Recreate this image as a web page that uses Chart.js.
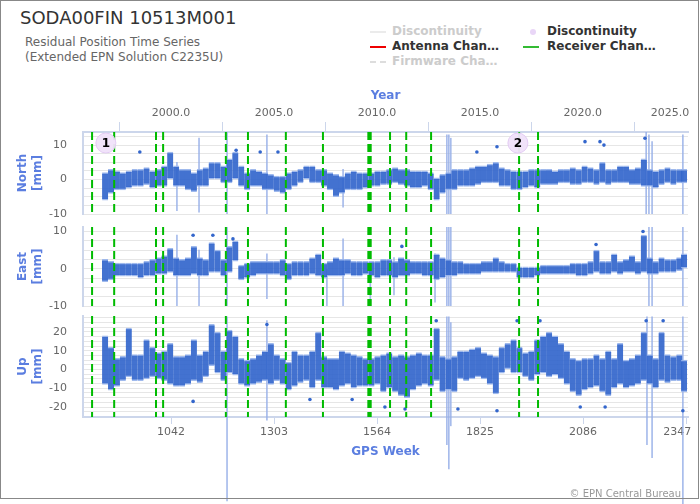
<!DOCTYPE html>
<html>
<head>
<meta charset="utf-8">
<script src="https://cdn.jsdelivr.net/npm/chart.js@4"></script>
<style>
  body { margin: 0; width: 700px; height: 504px; overflow: hidden; background: #fff; font-family: "DejaVu Sans", sans-serif; }
  canvas { position: absolute; left: 0; top: 0; }
  #frame { position: absolute; left: 0; top: 0; width: 697px; height: 497px; border: 1px solid #888; z-index: 5; pointer-events: none; }
  .title { position: absolute; left: 20px; top: 7px; font-size: 18px; color: #333; }
  .sub { position: absolute; left: 25px; top: 35px; font-size: 12px; line-height: 15px; color: #666; }
  .leg { position: absolute; font-size: 12px; font-weight: bold; white-space: nowrap; overflow: hidden; text-overflow: ellipsis; max-width: 110px; line-height: 15px; }
  .mark { position: absolute; height: 0; width: 16px; }
  .copy { position: absolute; right: 19px; top: 488px; font-size: 10px; color: #999; }
</style>
</head>
<body>
<div class="title">SODA00FIN 10513M001</div>
<div class="sub">Residual Position Time Series<br>(Extended EPN Solution C2235U)</div>

<!-- legend -->
<div class="mark" style="left:370px;top:31px;border-top:2px solid #ebebeb"></div>
<div class="leg" style="left:392px;top:24px;color:#ccc">Discontinuity</div>
<div class="mark" style="left:370px;top:46px;border-top:2px solid #e00"></div>
<div class="leg" style="left:392px;top:39px;color:#333">Antenna Change</div>
<div class="mark" style="left:370px;top:61px;border-top:2px dashed #ddd"></div>
<div class="leg" style="left:392px;top:54px;color:#ccc">Firmware Change</div>
<div style="position:absolute;left:530px;top:29px;width:6px;height:6px;border-radius:3px;background:#e9d6f7"></div>
<div class="leg" style="left:547px;top:24px;color:#333">Discontinuity</div>
<div class="mark" style="left:523px;top:46px;border-top:2px solid #3b3"></div>
<div class="leg" style="left:547px;top:39px;color:#333">Receiver Change</div>

<canvas id="north" width="700" height="504"></canvas>
<canvas id="east" width="700" height="504"></canvas>
<canvas id="up" width="700" height="504"></canvas>
<div class="copy">© EPN Central Bureau</div>
<div id="frame"></div>

<script>
// GPS week bins (15 weeks) of the residual band
const weeks = [875,890,905,920,935,950,965,980,995,1010,
  1025,1040,1055,1070,1085,1100,1115,1130,1145,1160,
  1175,1190,1205,1220,1235,1250,1265,1280,1295,1310,
  1325,1340,1355,1370,1385,1400,1415,1430,1445,1460,
  1475,1490,1505,1520,1535,1550,1565,1580,1595,1610,
  1625,1640,1655,1670,1685,1700,1715,1730,1745,1760,
  1775,1790,1805,1820,1835,1850,1865,1880,1895,1910,
  1925,1940,1955,1970,1985,2000,2015,2030,2045,2060,
  2075,2090,2105,2120,2135,2150,2165,2180,2195,2210,
  2225,2240,2255,2270,2285,2300,2315,2330,2342];

const northLo = [-6,-4,-3,-3,-2.5,-2,-2,-1.5,-2.5,-2,
  -2,0,-2,-2,-3,-3.5,-2,-2,0,0,
  -1,-1,0,-2,-3,-2,-2,-3,-3,-3.5,
  -4,-3,-2,-1,0,-1,-1,-2,-3,-5,
  -4,-3,-3,-3,-2.5,-2,-2,-1.5,-1.5,-1,
  -1.5,-2,-2.5,-2.5,-2,-3,-6,-4,-3,-3,
  -2,-2,-2,-1.5,-1,-1,-1,-2,-2,-3,
  -3,-2.5,-2,-2.5,-1.5,-1.5,-1.5,-1,-1,-1.5,
  -1.5,-1,-1,-1.5,-1,-1.5,-1,-1,-1,-1.5,
  -1.5,-2,-2,-2.5,-1.5,-1,-1.5,-1,-1];
const northHi = [2,3,2.5,2,2.5,3,3,3.5,2.5,3,
  4,8,4,3,3,2,3,3.5,5,5,
  4,6,8,4,2,3,2.5,2,1.5,1,
  1,2,2.5,3,4,4,3,3,2,1.5,
  1,2,2.5,2,2,2,2.5,2.5,3,3.5,
  3,3,2.5,2.5,2.5,2,0.5,1.5,2,3,
  3,3,3.5,4,4,4.5,5,3.5,3,2.5,
  2.5,2.5,3,3,3,3,2.5,3,3,3.5,
  3,4,3.5,3,5,3,3,4,4,3,
  3.5,6,3,2.5,3,3.5,3,3,3];

const eastLo = [-3.5,-3,-2,-2,-2,-2,-2.5,-2,-2,-1.5,
  -1.5,-1,-2,-2,-2,-1.5,-2,-2,-1,-1,
  -2,-1,2,-3,-2.5,-2,-1.5,-1.5,-1.5,-1.5,
  -2,-3,-2,-2,-2,-1.5,-2,-2.5,-2,-2,
  -2,-1.5,-2,-2,-1.5,-2,-2.5,-2,-2,-2.5,
  -2,-2,-1.5,-1.5,-2,-2,-3,-2.5,-2,-2,
  -1.5,-1.5,-1.5,-1.5,-1,-1,-1,-1,-1,-1,
  -2.5,-2.5,-2.5,-2,-1.5,-1.5,-1.5,-1.5,-1.5,-1.5,
  -2,-2,-1.5,-1,-1.5,-1.5,-1,-1.5,-1,-1,
  -1.5,-1,-1.5,-1.5,-1,-1,-1,-0.5,0];
const eastHi = [2.5,2,1.5,1.5,1.5,1.5,1.5,2,2.5,3,
  3.5,5.5,3,2.5,3,6,3,2.5,7,5,
  2.5,6,7.5,1,1.5,2,2,2,2,2,
  2.5,1.5,2,2,2,3,4,1.5,2,3,
  2.5,2.5,2,2,2,2,2,2.5,2.5,2,
  3,2.5,2,2,2,2,4,3,2.5,2,
  2,1.5,1.5,1.5,2,2,3,2,1.5,1.5,
  0.5,0.5,0.5,0.5,1,1,1,1,1,1.5,
  1.5,1.5,2,5,2,2,4,2,2.5,3.5,
  2,9,3,2,3,2.5,2.5,3,4];

const upLo = [-8,-11,-9,-6,-4,-6,-6,-5,-4,-5,
  -6,-8,-9,-9,-8,-6,-7,-4,2,-2,
  -6,-2,-3,-8,-9,-8,-7,-6,-8,-6,
  -8,-11,-9,-7,-6,-10,-6,-10,-10,-11,
  -9,-8,-10,-9,-9,-9,-8,-12,-10,-12,
  -14,-15,-11,-9,-8,-9,-6,-12,-11,-12,
  -5,-6,-5,-4,-5,-8,-13,-2,0,-2,
  -2,-4,-6,-3,-2,-4,-3,-5,-8,-12,
  -14,-11,-10,-9,-12,-14,-10,-8,-10,-9,
  -8,-6,-8,-10,-6,-7,-6,-6,-12];
const upHi = [18,12,6,7,22,8,8,16,12,9,
  10,14,7,7,8,16,8,10,24,20,
  10,21,18,6,5,6,8,10,14,8,
  6,4,10,8,8,10,20,7,6,6,
  10,9,8,7,6,6,7,8,9,7,
  8,7,8,9,8,8,22,7,6,7,
  10,10,11,12,9,8,7,12,14,16,
  12,9,10,16,18,20,18,14,10,6,
  5,6,6,8,6,10,6,14,5,6,
  8,20,8,6,20,8,7,8,5];

// isolated outliers
const northOutWeeks = [963, 1207, 1268, 1313, 1817, 1868, 2091, 2129, 2139, 2243];
const northOutVals = [8, 8.5, 8, 8, 8, 9.5, 11, 11, 10, 12];
const eastOutWeeks = [1098, 1148, 1199, 1627, 2119, 2238];
const eastOutVals = [9, 9, 8, 6, 6.5, 10];
const upOutWeeks = [1098, 1285, 1394, 1501, 1584, 1635, 1714, 1769, 1868, 1919, 1977, 2079, 2142, 2246, 2289, 2339];
const upOutVals = [-17, 24, -16, -16, -20, -21, 26, -21, -22, 26, 26, -20, -20, 26, 26, -22];

// long error bars
const northSpikeWeeks = [1057, 1113, 1184, 1285, 1478, 1741, 1746, 1751, 2246, 2253, 2261, 2339];
const northSpikeLo = [-9, -9.5, -14, -12, -8, -14, -14, -13, -14, -14, -12, -14];
const northSpikeHi = [5, 12, 14, 13, 3, 13, 13, 12, 14, 13, 11, 13];
const eastSpikeWeeks = [1057, 1113, 1184, 1285, 1437, 1478, 1547, 1607, 1711, 1741, 1746, 1751, 2253, 2261, 2339];
const eastSpikeLo = [-11, -10, -14, -8, -10, -11, -10.5, -7, -9, -16, -16, -14, -16, -16, -16];
const eastSpikeHi = [9, 5, 14, 4, 0, 8, 0, 3, 4, 14, 14, 12, 14, 14, 14];
const upSpikeWeeks = [1184, 1285, 1741, 1746, 1751, 2248, 2261, 2339];
const upSpikeLo = [-70, -27, -40, -53, -30, -40, -47, -72];
const upSpikeHi = [28, 26, 28, 28, 25, 28, 28, 28];

// receiver changes and discontinuities
const receiverWeeks = [842, 898, 1004, 1022, 1181, 1237, 1333, 1427, 1542, 1545, 1548, 1597, 1638, 1701, 1924, 1972];
const discWeeks = [877, 1921];
const discLabels = ['1', '2'];

const weekTicks = [1042, 1303, 1564, 1825, 2086, 2347];
const yearTicks = [2000, 2005, 2010, 2015, 2020, 2025];
const weekMin = 819, weekMax = 2352;

const toYear = w => 2000 + (w - 1042) / 52.1775;
const titleBlue = '#5b7ee0';
const axisCol = '#ccd6eb';

Chart.defaults.font.family = '"DejaVu Sans", sans-serif';
Chart.defaults.animation = false;
Chart.defaults.events = [];

// last label kept inside the plot, like the original
const lastInside = (txt, i, n, pad) => (i === n - 1 ? txt + ' '.repeat(pad) : txt);

const discLabelPlugin = {
    id: 'discLabels',
    afterDatasetsDraw(chart) {
        const idx = chart.data.datasets.findIndex(d => d.label === 'disc');
        if (idx < 0) return;
        const ctx = chart.ctx;
        ctx.save();
        ctx.font = 'bold 12px "DejaVu Sans", sans-serif';
        ctx.fillStyle = '#000';
        ctx.textAlign = 'center';
        ctx.textBaseline = 'middle';
        chart.getDatasetMeta(idx).data.forEach((pt, i) => ctx.fillText(discLabels[i], pt.x, pt.y + 1));
        ctx.restore();
    }
};

function panel(id, o) {
    const band = weeks.map((w, i) => ({ x: w, y: [o.lo[i], o.hi[i]] }));
    const spikes = o.spikeWeeks.map((w, i) => ({ x: w, y: [o.spikeLo[i], o.spikeHi[i]] }));
    const outs = o.outWeeks.map((w, i) => ({ x: w, y: o.outVals[i] }));
    const green = [];
    for (const w of receiverWeeks) {
        green.push({ x: w, y: o.max }, { x: w, y: o.min }, { x: w, y: null });
    }

    const datasets = [
        { type: 'bar', data: spikes, backgroundColor: 'rgba(150,175,232,0.85)', barThickness: 1, grouped: false, order: 6, clip: o.clip },
        { type: 'bar', data: band, backgroundColor: 'rgba(51,102,204,0.92)', borderColor: 'rgba(150,178,235,0.9)',
            borderWidth: { top: 1.5, bottom: 1.5, left: 0, right: 0 }, borderSkipped: false,
            barThickness: 6, grouped: false, order: 5 },
        { type: 'scatter', data: outs, backgroundColor: '#3366cc', borderWidth: 0, pointRadius: 1.8, order: 4 },
        { type: 'line', data: green, borderColor: '#0b0', borderWidth: 2, borderDash: [8, 4], pointRadius: 0, spanGaps: false, order: 3 }
    ];
    if (o.disc) {
        datasets.push({ type: 'scatter', label: 'disc', data: discWeeks.map(w => ({ x: w, y: 10.6 })),
            backgroundColor: 'rgba(240,226,250,0.95)', borderColor: '#e3cbf3', borderWidth: 1, pointRadius: 10, order: 1 });
    }

    const scales = {
        x: {
            type: 'linear', position: 'bottom', min: weekMin, max: weekMax, display: !!o.bottomAxis, offset: false,
            grid: { drawOnChartArea: false, offset: false, tickLength: 7, color: axisCol },
            border: { color: axisCol, width: 2 },
            ticks: { color: '#666', font: { size: 11 }, padding: 2, maxRotation: 0, autoSkip: false,
                callback: (v, i, t) => lastInside(String(v), i, t.length, 5) },
            afterBuildTicks: s => { s.ticks = weekTicks.map(v => ({ value: v })); },
            afterFit: s => { if (o.bottomAxis) s.height = 45; s.paddingLeft = 0; s.paddingRight = 0; },
            title: { display: true, text: 'GPS Week', color: titleBlue, font: { size: 12, weight: 'bold' }, padding: { top: 0, bottom: 3 } }
        },
        y: {
            min: o.min, max: o.max,
            grid: { color: '#e6e6e6', drawTicks: false },
            border: { color: axisCol, width: 2 },
            ticks: { autoSkip: false, color: '#666', font: { size: 11 }, padding: 16,
                callback: v => (v % 10 === 0 ? v : '') },
            // grid every 2.5 mm, labels every 10 mm
            afterBuildTicks: s => {
                const t = [];
                for (let v = Math.ceil(o.min / 2.5) * 2.5; v <= o.max; v += 2.5) t.push({ value: v });
                s.ticks = t;
            },
            afterFit: s => { s.width = 83; s.paddingTop = 0; s.paddingBottom = 0; },
            title: { display: true, text: o.title, color: titleBlue, font: { size: 12, weight: 'bold' }, padding: { top: 16, bottom: 0 } }
        }
    };
    if (o.topAxis) {
        scales.xt = {
            type: 'linear', position: 'top', min: toYear(weekMin), max: toYear(weekMax), offset: false,
            grid: { drawOnChartArea: false, tickLength: 10, color: axisCol },
            border: { color: axisCol, width: 2 },
            ticks: { color: '#666', font: { size: 11 }, padding: 2, maxRotation: 0, autoSkip: false,
                callback: (v, i, t) => lastInside(v.toFixed(1), i, t.length, 9) },
            afterBuildTicks: s => { s.ticks = yearTicks.map(v => ({ value: v })); },
            afterFit: s => { s.height = 52; s.paddingLeft = 0; s.paddingRight = 0; },
            title: { display: true, text: 'Year', color: titleBlue, font: { size: 12, weight: 'bold' }, padding: { top: 9, bottom: 0 } }
        };
    }

    new Chart(document.getElementById(id), {
        type: 'bar',
        data: { datasets },
        options: {
            responsive: false,
            layout: { padding: o.padding },
            plugins: { legend: { display: false }, tooltip: { enabled: false } },
            scales
        },
        plugins: [discLabelPlugin]
    });
}

panel('north', {
    lo: northLo, hi: northHi, min: -10, max: 13.8, title: ['North', '[mm]'],
    outWeeks: northOutWeeks, outVals: northOutVals,
    spikeWeeks: northSpikeWeeks, spikeLo: northSpikeLo, spikeHi: northSpikeHi, clip: undefined,
    topAxis: true, disc: true,
    padding: { top: 80, bottom: 290, left: 0, right: 12 }
});
panel('east', {
    lo: eastLo, hi: eastHi, min: -10, max: 11.2, title: ['East', '[mm]'],
    outWeeks: eastOutWeeks, outVals: eastOutVals,
    spikeWeeks: eastSpikeWeeks, spikeLo: eastSpikeLo, spikeHi: eastSpikeHi, clip: undefined,
    padding: { top: 227, bottom: 198, left: 0, right: 12 }
});
panel('up', {
    lo: upLo, hi: upHi, min: -25.3, max: 28.5, title: ['Up', '[mm]'],
    outWeeks: upOutWeeks, outVals: upOutVals,
    spikeWeeks: upSpikeWeeks, spikeLo: upSpikeLo, spikeHi: upSpikeHi, clip: false,
    bottomAxis: true,
    padding: { top: 316, bottom: 42, left: 0, right: 12 }
});
</script>
</body>
</html>
